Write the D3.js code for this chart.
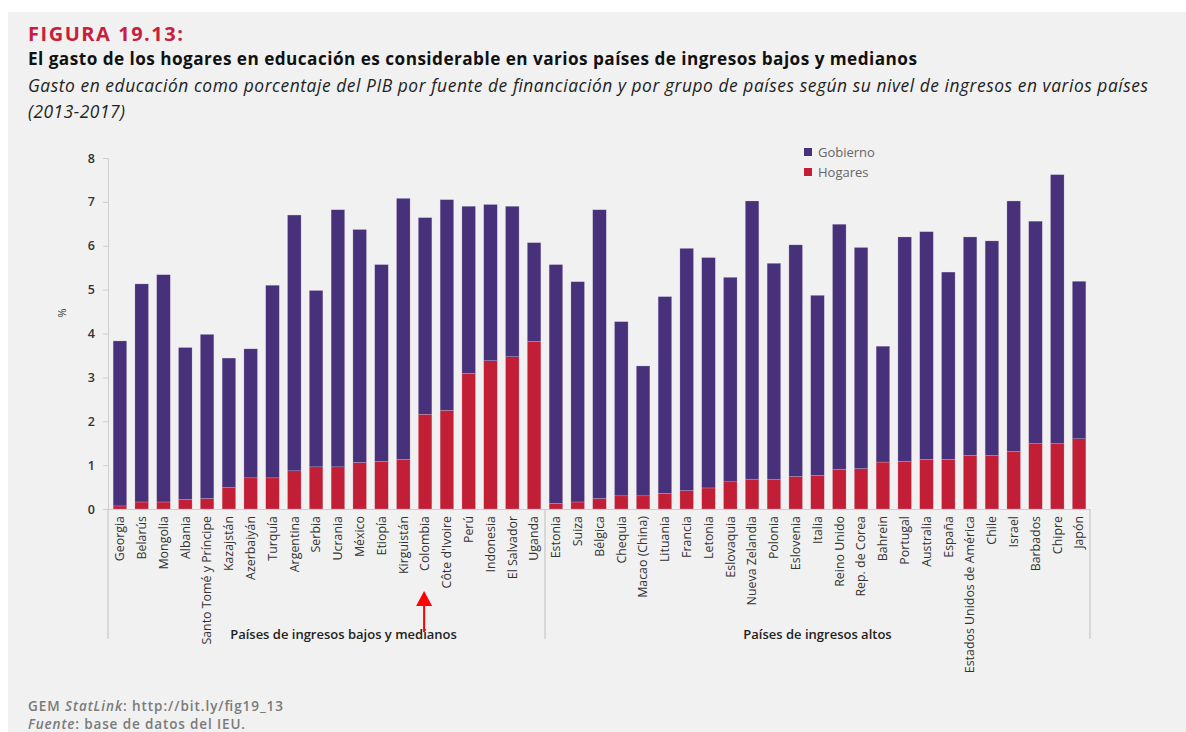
<!DOCTYPE html>
<html>
<head>
<meta charset="utf-8">
<script src="https://cdn.jsdelivr.net/npm/d3@7"></script>
<style>
  html, body { margin: 0; padding: 0; background: #ffffff; }
  svg { display: block; }
  text { font-family: "Open Sans", "Noto Sans", "DejaVu Sans", sans-serif; }
</style>
</head>
<body>
<script>
// ---------- DATA ----------
const countries = ["Georgia","Belarús","Mongolia","Albania","Santo Tomé y Príncipe","Kazajstán","Azerbaiyán","Turquía","Argentina","Serbia","Ucrania","México","Etiopía","Kirguistán","Colombia","Côte d'Ivoire","Perú","Indonesia","El Salvador","Uganda",
  "Estonia","Suiza","Bélgica","Chequia","Macao (China)","Lituania","Francia","Letonia","Eslovaquia","Nueva Zelandia","Polonia","Eslovenia","Italia","Reino Unido","Rep. de Corea","Bahrein","Portugal","Australia","España","Estados Unidos de América","Chile","Israel","Barbados","Chipre","Japón"];
const groups = ["Países de ingresos bajos y medianos","Países de ingresos altos"];
const groupSizes = [20, 25];
const hogares = [0.07,0.16,0.16,0.22,0.24,0.49,0.71,0.71,0.87,0.96,0.96,1.06,1.09,1.13,2.16,2.25,3.09,3.38,3.47,3.82,
  0.13,0.16,0.24,0.30,0.30,0.36,0.42,0.48,0.62,0.68,0.68,0.74,0.77,0.90,0.92,1.07,1.09,1.13,1.13,1.22,1.22,1.31,1.49,1.49,1.60];
const gobierno = [3.76,4.97,5.18,3.46,3.74,2.95,2.94,4.39,5.83,4.02,5.86,5.31,4.48,5.95,4.48,4.80,3.81,3.56,3.43,2.25,
  5.44,5.02,6.58,3.97,2.96,4.48,5.52,5.25,4.66,6.34,4.92,5.28,4.10,5.59,5.04,2.64,5.11,5.19,4.27,4.98,4.89,5.71,5.07,6.13,3.59];
const seriesNames = ["Hogares","Gobierno"];
const yTicks = [0,1,2,3,4,5,6,7,8];

// ---------- LAYOUT ----------
const W = 1186, H = 732;
const colors = { Gobierno: "#48317b", Hogares: "#c21f37" };
const svg = d3.select("body").append("svg").attr("width", W).attr("height", H);

svg.append("rect").attr("x", 0).attr("y", 0).attr("width", W).attr("height", H).attr("fill", "#ffffff");
svg.append("rect").attr("x", 8).attr("y", 12).attr("width", W - 8).attr("height", H - 12).attr("fill", "#f1f1f1");

// Titles
svg.append("text").attr("x", 28).attr("y", 41).text("FIGURA 19.13:")
  .attr("fill", "#c8203c").attr("font-weight", 700).attr("font-size", 20)
  .attr("textLength", 155).attr("lengthAdjust", "spacing");
svg.append("text").attr("x", 28).attr("y", 65)
  .text("El gasto de los hogares en educación es considerable en varios países de ingresos bajos y medianos")
  .attr("fill", "#111").attr("font-weight", 700).attr("font-size", 17.2)
  .attr("textLength", 889).attr("lengthAdjust", "spacing");
svg.append("text").attr("x", 28).attr("y", 92)
  .text("Gasto en educación como porcentaje del PIB por fuente de financiación y por grupo de países según su nivel de ingresos en varios países")
  .attr("fill", "#222").attr("font-style", "italic").attr("font-size", 17.4)
  .attr("textLength", 1120).attr("lengthAdjust", "spacing");
svg.append("text").attr("x", 28).attr("y", 118).text("(2013-2017)")
  .attr("fill", "#222").attr("font-style", "italic").attr("font-size", 17.4)
  .attr("textLength", 97).attr("lengthAdjust", "spacing");

// Scales
const x = d3.scaleBand().domain(countries).range([109, 1090]).paddingInner(0.38).paddingOuter(0.19);
const y = d3.scaleLinear().domain([0, 8]).range([509, 158]);

// Y axis
const yAxis = svg.append("g").attr("transform", "translate(108,0)")
  .call(d3.axisLeft(y).tickValues(yTicks).tickSize(5).tickPadding(8).tickFormat(d3.format("d")));
yAxis.select(".domain").attr("stroke", "#cfcfcf");
yAxis.selectAll(".tick line").attr("stroke", "#cfcfcf");
yAxis.selectAll(".tick text").attr("fill", "#333").attr("font-size", 12.5).attr("font-weight", 600)
  .attr("font-family", "'Open Sans', sans-serif");
svg.append("text").attr("transform", "translate(66,313) rotate(-90)").attr("text-anchor", "middle")
  .attr("fill", "#333").attr("font-size", 11).text("%");

// Stacked bars
const rows = countries.map((c, i) => ({ country: c, Hogares: hogares[i], Gobierno: gobierno[i] }));
const stack = d3.stack().keys(seriesNames)(rows);
svg.append("g").selectAll("g").data(stack).join("g")
  .attr("fill", d => colors[d.key])
  .selectAll("rect").data(d => d).join("rect")
  .attr("x", d => x(d.data.country))
  .attr("width", x.bandwidth())
  .attr("y", d => y(d[1]))
  .attr("height", d => y(d[0]) - y(d[1]))
  .attr("stroke", "#d8cfe3").attr("stroke-width", 0.4).attr("stroke-opacity", 0.6);

// X axis line
svg.append("line").attr("x1", 108).attr("x2", 1090).attr("y1", 509.5).attr("y2", 509.5).attr("stroke", "#cfcfcf");

// Country labels
const xAxis = svg.append("g").attr("transform", "translate(0,509)")
  .call(d3.axisBottom(x).tickSize(0).tickPadding(0));
xAxis.select(".domain").remove();
xAxis.selectAll(".tick text")
  .attr("transform", "rotate(-90)")
  .attr("text-anchor", "end")
  .attr("x", -7).attr("y", 0).attr("dy", "0.35em")
  .attr("fill", "#333").attr("font-size", 12.4)
  .attr("font-family", "'Open Sans', sans-serif");

// Group separators and labels
let start = 0;
const bounds = [108];
const labelNudge = [17, 0];
groupSizes.forEach((n, gi) => {
  const first = countries[start], last = countries[start + n - 1];
  const x0 = gi === 0 ? 108 : x(first) - x.step() * x.paddingInner() / 2;
  const x1 = gi === groupSizes.length - 1 ? 1090 : x(last) + x.bandwidth() + x.step() * x.paddingInner() / 2;
  bounds.push(x1);
  svg.append("text").attr("x", (x0 + x1) / 2 + labelNudge[gi]).attr("y", 639).attr("text-anchor", "middle")
    .attr("fill", "#222").attr("font-size", 13).attr("font-weight", 600).text(groups[gi]);
  start += n;
});
bounds.forEach(bx => {
  svg.append("line").attr("x1", bx).attr("x2", bx).attr("y1", 509).attr("y2", 639)
    .attr("stroke", "#cfcfcf").attr("stroke-width", 1.5);
});

// Legend
const legend = svg.append("g").attr("transform", "translate(804,152)");
["Gobierno","Hogares"].forEach((k, i) => {
  const g = legend.append("g").attr("transform", `translate(0,${i * 20})`);
  g.append("rect").attr("x", 0).attr("y", -4).attr("width", 8).attr("height", 8).attr("fill", colors[k]);
  g.append("text").attr("x", 14).attr("y", 0).attr("dy", "0.35em").attr("fill", "#666").attr("font-size", 13).text(k);
});

// Red arrow annotation
const arrowX = (x("Colombia") + x.bandwidth() / 2) - 1;
svg.append("line").attr("x1", arrowX).attr("x2", arrowX).attr("y1", 632).attr("y2", 604)
  .attr("stroke", "#ff0000").attr("stroke-width", 2);
svg.append("path").attr("d", `M${arrowX},591 L${arrowX - 8},606 L${arrowX + 8},606 Z`).attr("fill", "#ff0000");

// Footer
svg.append("text").attr("x", 28).attr("y", 711).attr("fill", "#7a7a7a").attr("font-size", 13.5).attr("font-weight", 600)
  .attr("textLength", 255).attr("lengthAdjust", "spacing")
  .html('GEM <tspan font-style="italic">StatLink</tspan>: http://bit.ly/fig19_13');
svg.append("text").attr("x", 28).attr("y", 729).attr("fill", "#7a7a7a").attr("font-size", 13.5).attr("font-weight", 600)
  .attr("textLength", 217).attr("lengthAdjust", "spacing")
  .html('<tspan font-style="italic">Fuente</tspan>: base de datos del IEU.');
</script>
</body>
</html>
